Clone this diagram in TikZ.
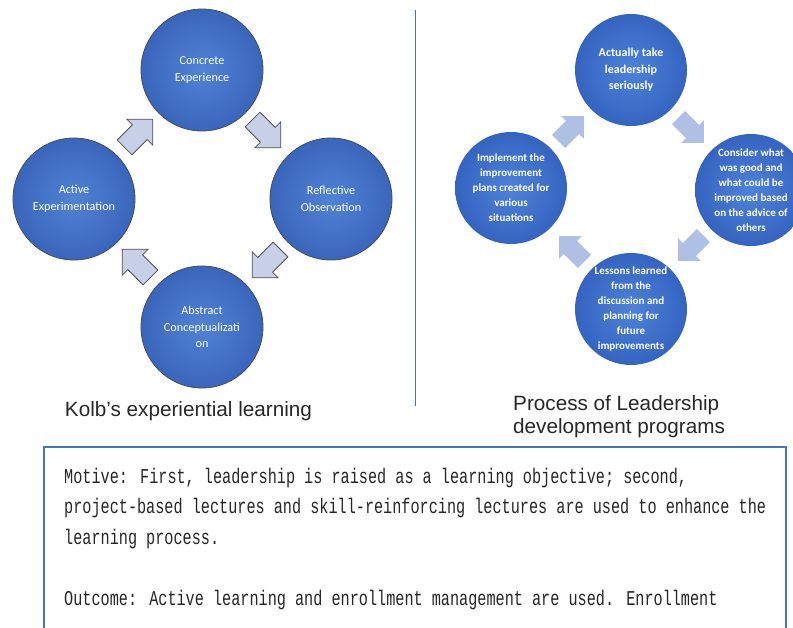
\documentclass[tikz,border=0pt]{standalone}
\usepackage{fontspec}
\setmainfont{Liberation Sans}
\newfontfamily\circfont{Carlito}
\newfontfamily\boxfont[FakeStretch=0.72]{Liberation Mono}
\usetikzlibrary{shapes.arrows}
\definecolor{kblue}{RGB}{68,114,196}
\definecolor{cinner}{RGB}{80,130,214}
\definecolor{couter}{RGB}{58,102,186}
\definecolor{rinner}{RGB}{78,130,218}
\definecolor{router}{RGB}{52,100,192}
\definecolor{larrowfill}{RGB}{200,208,232}
\definecolor{larrowline}{RGB}{80,80,92}
\definecolor{rarrowfill}{RGB}{176,192,228}
\definecolor{titlegray}{RGB}{40,40,40}
\tikzset{
  lcirc/.style={circle, minimum size=122pt, inner sep=0pt, inner color=cinner, outer color=couter, draw={rgb,255:red,70;green,76;blue,96}, line width=0.8pt},
  rcirc/.style={circle, minimum size=112pt, inner sep=0pt, inner color=rinner, outer color=router},
  ltext/.style={text=white, align=center, inner sep=0pt, font=\circfont\fontsize{12.2}{16.7}\selectfont},
  rtext/.style={text=white, align=center, inner sep=0pt, font=\circfont\bfseries\fontsize{11}{15}\selectfont},
  rtexttop/.style={text=white, align=center, inner sep=0pt, font=\circfont\bfseries\fontsize{12}{16.6}\selectfont},
  larrow/.style={single arrow, minimum height=40pt, single arrow head extend=8pt, inner xsep=0pt, inner ysep=10pt, fill=larrowfill, draw=larrowline, line width=0.8pt},
  rarrow/.style={single arrow, minimum height=36pt, single arrow head extend=7pt, inner xsep=0pt, inner ysep=9pt, fill=rarrowfill},
  ttl/.style={inner sep=0pt, text=titlegray, font=\fontsize{20.7}{23}\selectfont},
  boxline/.style={inner sep=0pt, anchor=base west, font=\boxfont\fontsize{21.1}{30.6}\selectfont, text=black!85}
}
\begin{document}
\begin{tikzpicture}[x=1pt,y=-1pt]
\useasboundingbox (0,0) rectangle (793,628);
\clip (0,0) rectangle (793,628);
\fill[white] (0,0) rectangle (793,628);

% Kolb cycle
\node[lcirc] (ce) at (202,70) {};
\node[lcirc] (ro) at (331,199) {};
\node[lcirc] (ac) at (202,327) {};
\node[lcirc] (ae) at (74,199) {};
\node[ltext] (cet) at (ce) {Concrete\\Experience};
\node[ltext] (rot) at (ro) {Reflective\\Observation};
\node[ltext] (act) at (ac) {Abstract\\Conceptualizati\\on};
\node[ltext] (aet) at (ae) {Active\\Experimentation};
\node[larrow, rotate=-45] (a1) at (263,130) {};
\node[larrow, rotate=-135] (a2) at (270,260) {};
\node[larrow, rotate=135] (a3) at (140,267) {};
\node[larrow, rotate=45] (a4) at (135,137) {};
\node[ttl, anchor=base] (kt) at (188.5,417) {Kolb’s experiential learning};

% divider
\draw[kblue, line width=1.6pt] (415.5,10) -- (415.5,406);

% Leadership cycle
\node[rcirc] (at) at (631,70) {};
\node[rcirc] (cw) at (751,190) {};
\node[rcirc] (ll) at (631,309) {};
\node[rcirc] (ip) at (511,188) {};
\node[rtexttop] (att) at (at) {Actually take\\leadership\\seriously};
\node[rtext] (cwt) at (cw) {Consider what\\was good and\\what could be\\improved based\\on the advice of\\others};
\node[rtext] (llt) at (ll) {Lessons learned\\from the\\discussion and\\planning for\\future\\improvements};
\node[rtext] (ipt) at (ip) {Implement the\\improvement\\plans created for\\various\\situations};
\node[rarrow, rotate=-45] (b1) at (688,127) {};
\node[rarrow, rotate=-135] (b2) at (694,245) {};
\node[rarrow, rotate=135] (b3) at (575,252) {};
\node[rarrow, rotate=45] (b4) at (568,132) {};
\node[ttl, anchor=base west] (pt1) at (513,410) {Process of Leadership};
\node[ttl, anchor=base west] (pt2) at (513,433) {development programs};

% text box
\node[draw=kblue, line width=2pt, minimum width=742pt, minimum height=220pt, anchor=north west, inner sep=0pt] (box) at (43,446) {};
\node[boxline] (m1) at (64,483) {Motive: First, leadership is raised as a learning objective; second,};
\node[boxline] (m2) at (64,513.6) {project-based lectures and skill-reinforcing lectures are used to enhance the};
\node[boxline] (m3) at (64,544.2) {learning process.};
\node[boxline] (o1) at (64,605.4) {Outcome: Active learning and enrollment management are used. Enrollment};
\end{tikzpicture}
\end{document}
